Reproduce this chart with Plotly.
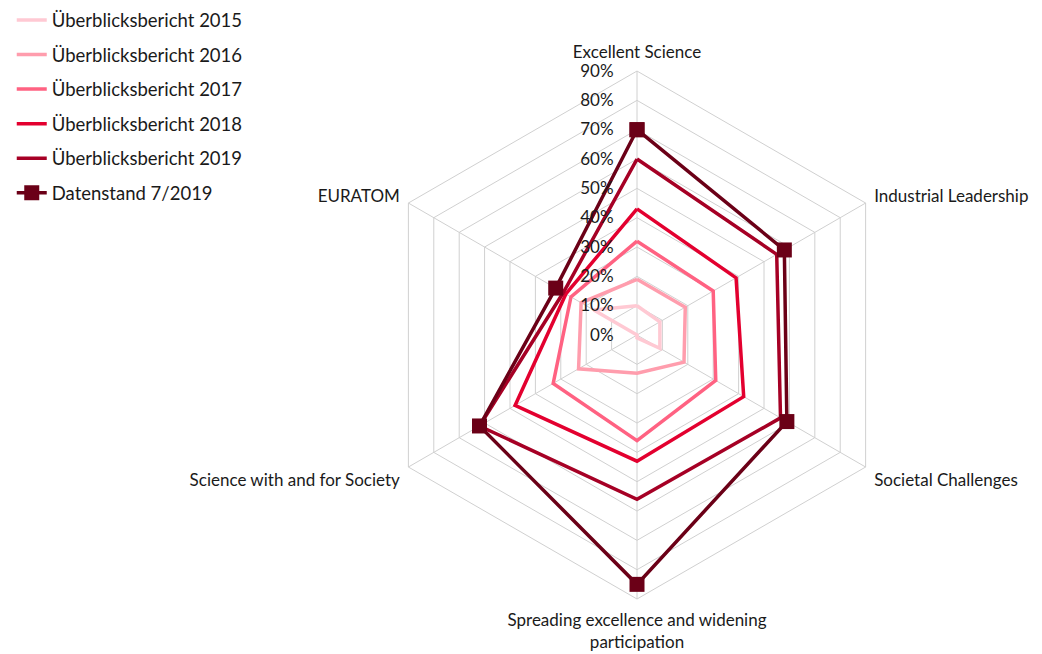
import plotly.graph_objects as go

categories = ["Excellent Science", "Industrial Leadership", "Societal Challenges",
              "Spreading excellence and widening<br>participation",
              "Science with and for Society", "EURATOM"]

series_names = ["Überblicksbericht 2015", "Überblicksbericht 2016", "Überblicksbericht 2017",
                "Überblicksbericht 2018", "Überblicksbericht 2019", "Datenstand 7/2019"]

v2015 = [0.10, 0.09, 0.09, 0.01, 0.00, 0.17]
v2016 = [0.19, 0.19, 0.185, 0.13, 0.23, 0.22]
v2017 = [0.32, 0.30, 0.31, 0.36, 0.33, 0.26]
v2018 = [0.43, 0.39, 0.42, 0.43, 0.48, 0.28]
v2019 = [0.60, 0.55, 0.565, 0.56, 0.62, 0.29]
vdat = [0.70, 0.58, 0.59, 0.85, 0.62, 0.32]

tick_vals = [0, 0.1, 0.2, 0.3, 0.4, 0.5, 0.6, 0.7, 0.8, 0.9]
tick_text = ["0%", "10%", "20%", "30%", "40%", "50%", "60%", "70%", "80%", "90%"]

colors = ["#FFC9D3", "#FF9DAD", "#FF6282", "#E3002F", "#A60025", "#6B0017"]
all_vals = [v2015, v2016, v2017, v2018, v2019, vdat]

FONT = "Lato"

fig = go.Figure()
for i, (name, vals, col) in enumerate(zip(series_names, all_vals, colors)):
    is_last = i == len(series_names) - 1
    fig.add_trace(go.Scatterpolar(
        r=vals + [vals[0]],
        theta=categories + [categories[0]],
        name=name,
        mode="lines+markers" if is_last else "lines",
        line=dict(color=col, width=3.5),
        marker=dict(symbol="square", size=15, color=col) if is_last else None,
        legendgroup=f"g{i}",
    ))

fig.update_layout(
    width=1042, height=654,
    margin=dict(l=0, r=0, t=0, b=0, autoexpand=False),
    paper_bgcolor="white",
    plot_bgcolor="white",
    font=dict(family=FONT, size=17, color="#1a1a1a"),
    showlegend=True,
    legend=dict(x=0.0036, y=1.01, xanchor="left", yanchor="top",
                font=dict(family=FONT, size=18.5, color="#1a1a1a"),
                tracegroupgap=7.5, bgcolor="rgba(0,0,0,0)"),
    polar=dict(
        domain=dict(x=[0.3503, 0.8570], y=[0.0963, 0.9036]),
        bgcolor="white",
        gridshape="linear",
        angularaxis=dict(
            direction="clockwise", rotation=90,
            showgrid=True, gridcolor="#D0D0D0", gridwidth=1,
            showline=True, linecolor="#D0D0D0", linewidth=1,
            ticks="outside", ticklen=6, tickcolor="rgba(0,0,0,0)",
            tickfont=dict(family=FONT, size=17, color="#1a1a1a"),
        ),
        radialaxis=dict(
            range=[0, 0.9], angle=90, side="counterclockwise",
            tickvals=tick_vals, ticktext=tick_text,
            showgrid=True, gridcolor="#D0D0D0", gridwidth=1,
            showline=False, ticks="outside", ticklen=17, tickcolor="rgba(0,0,0,0)",
            tickfont=dict(family=FONT, size=17, color="#1a1a1a"),
            tickangle=90,
        ),
    ),
)

fig.write_html("out.html")
